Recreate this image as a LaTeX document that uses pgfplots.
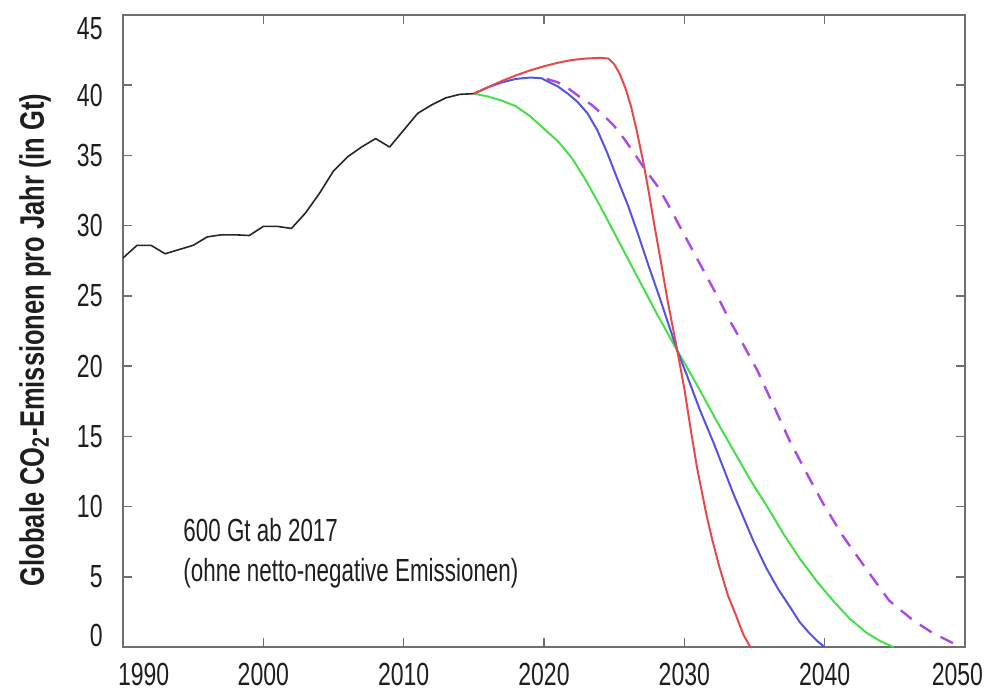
\documentclass[border=0pt]{standalone}
\usepackage{fontspec}
\setmainfont{Liberation Sans}[FakeStretch=0.72]
\newfontfamily\labelfont{Liberation Sans}[FakeStretch=0.75]
\newfontfamily\notefont{Liberation Sans}[FakeStretch=0.70]
\usepackage{pgfplots}
\pgfplotsset{compat=1.18}
\definecolor{cred}{RGB}{232,72,72}
\definecolor{cblue}{RGB}{84,84,228}
\definecolor{cgreen}{RGB}{72,222,72}
\definecolor{cviolet}{RGB}{172,72,232}
\definecolor{axisgray}{RGB}{110,110,110}
\definecolor{labeltext}{RGB}{30,30,30}
\begin{document}
\begin{tikzpicture}
\begin{axis}[
  scale only axis, width=421bp, height=316bp,
  xmin=1990, xmax=2050, ymin=0, ymax=45,
  xtick={1990,2000,2010,2020,2030,2040,2050},
  ytick={0,5,10,15,20,25,30,35,40,45},
  xticklabels={\makebox[0pt][l]{\hspace{-2.5bp}1990},2000,2010,2020,2030,2040,\makebox[0pt][r]{2050\hspace{-9bp}}},
  yticklabels={\raisebox{6bp}[\height][\depth]{0},5,10,15,20,25,30,35,\raisebox{-5bp}[\height][\depth]{40},\raisebox{-7bp}[\height][\depth]{45}},
  major tick length=4.5bp,
  tick style={color=axisgray, line width=0.8bp},
  axis line style={color=axisgray, line width=1bp},
  ticklabel style={font=\fontsize{16bp}{19bp}\selectfont, text=labeltext, inner sep=1bp},
  xticklabel style={yshift=-7bp},
  yticklabel style={xshift=-9bp},
  ylabel={Globale CO\textsubscript{2}-Emissionen pro Jahr (in Gt)},
  ylabel style={font=\labelfont\bfseries\fontsize{17bp}{20bp}\selectfont, text=labeltext, at={(axis description cs:-0.1045,0.486)}, anchor=center},
]
\addplot[black!85, line width=0.8bp, line join=round] coordinates {
(1990,27.7) (1991,28.6) (1992,28.6) (1993,28.0) (1994,28.3) (1995,28.6)
(1996,29.2) (1997,29.35) (1998,29.35) (1999,29.3) (2000,29.95) (2001,29.95)
(2002,29.8) (2003,30.9) (2004,32.3) (2005,33.9) (2006,34.9) (2007,35.6)
(2008,36.2) (2009,35.6) (2010,36.8) (2011,38.0) (2012,38.6) (2013,39.1)
(2014,39.35) (2015,39.4)
};
\addplot[cgreen, line width=1bp, line join=round] coordinates {
(2015,39.4) (2016,39.2) (2017,38.9) (2018,38.5) (2019,37.8) (2020,36.9)
(2021,36.0) (2022,34.8) (2023,33.2) (2024,31.4) (2025,29.5) (2026,27.6)
(2027,25.7) (2028,23.8) (2029,22.0) (2029.5,21.1) (2030.2,19.9) (2031.1,18.3)
(2032.3,16.1) (2033.5,14.0) (2034.7,11.9) (2035.9,10.0) (2037.1,8.0)
(2038.3,6.2) (2039.5,4.6) (2040.6,3.3) (2041.8,2.0) (2043.0,1.0)
(2044.0,0.4) (2044.9,0)
};
\addplot[cblue, line width=1bp, line join=round] coordinates {
(2015,39.4) (2016,39.85) (2017,40.2) (2018,40.45) (2019,40.55) (2019.8,40.5)
(2020.3,40.25) (2021,39.9) (2021.7,39.4) (2022.4,38.8) (2023.1,38.0)
(2023.8,36.8) (2024.5,35.2) (2025.2,33.4) (2026,31.4) (2026.7,29.4)
(2027.4,27.3) (2028.3,24.7) (2029,22.6) (2029.5,21.1) (2030.2,19.3)
(2031.1,16.9) (2032.1,14.5) (2033.5,10.9) (2034.9,7.6) (2035.8,5.7)
(2036.7,4.1) (2037.5,2.9) (2038.2,1.8) (2038.9,1.0) (2039.5,0.4) (2040.0,0)
};
\addplot[cred, line width=1bp, line join=round] coordinates {
(2015,39.4) (2016,39.85) (2017,40.3) (2018,40.7) (2019,41.05) (2020,41.35)
(2021,41.6) (2022,41.8) (2023,41.9) (2024,41.95) (2024.6,41.9) (2025,41.5)
(2025.4,40.8) (2025.8,39.8) (2026.2,38.5) (2026.6,36.8) (2027.1,34.4)
(2027.5,32.2) (2027.8,30.4) (2028.3,27.6) (2028.8,24.7) (2029.5,21.1)
(2030.0,18.4) (2030.5,15.2) (2030.9,12.8) (2031.6,9.3) (2032.0,7.6)
(2032.5,5.7) (2033.1,3.7) (2033.7,2.2) (2034.2,0.9) (2034.7,0)
};
\addplot[cviolet, line width=1.2bp, dash pattern=on 7bp off 5bp] coordinates {
(2020.2,40.45) (2021,40.2) (2021.7,39.8) (2022.5,39.2) (2023.4,38.6)
(2024.2,37.9) (2025,37.1) (2025.7,36.2) (2026.4,35.2) (2027.2,34.0)
(2028.1,32.8) (2028.9,31.4) (2029.7,29.9) (2030.4,28.6) (2031.1,27.3)
(2031.8,26.0) (2032.5,24.7) (2033.2,23.3) (2034.0,21.9) (2035.2,19.7)
(2036.4,17.1) (2037.5,14.7) (2038.7,12.4) (2039.9,10.2) (2041.3,7.9)
(2043.0,5.5) (2044.6,3.3) (2046.3,1.9) (2047.7,1.0) (2049.1,0.3) (2049.7,0)
};
\node[anchor=west, align=left, inner sep=0pt, text=labeltext,
  font=\notefont\fontsize{16bp}{20bp}\selectfont] at (axis cs:1994.28,6.7)
  {600 Gt ab 2017\\(ohne netto-negative Emissionen)};
\end{axis}
\path (current axis.south west) ++(-61.5bp,-21.5bp) coordinate (bbA);
\path (current axis.north east) ++(11.5bp,7.5bp) coordinate (bbB);
\path (bbA) rectangle (bbB);
\end{tikzpicture}
\end{document}
